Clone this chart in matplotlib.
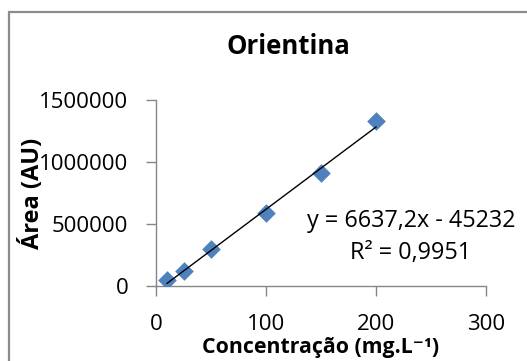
import numpy as np
import matplotlib
matplotlib.use("Agg")
from matplotlib import pyplot as plt
from matplotlib.patches import Rectangle

plt.rcParams['font.family'] = ['Open Sans', 'DejaVu Sans']

# Calibration data (mg/L vs peak area)
concentracao = [10, 25, 50, 100, 150, 200]
area = [48000, 123000, 296000, 586000, 909000, 1333000]

# Trendline reported by the fit
slope = 6637.2
intercept = -45232
r2 = 0.9951

x_ticks = [0, 100, 200, 300]
y_ticks = [0, 500000, 1000000, 1500000]

GRAY = "#868686"
BLUE = "#4F81BD"

fig = plt.figure(figsize=(5.27, 3.61), dpi=100)
fig.patch.set_facecolor("white")

# chart border (extends past the right/bottom edges)
fig.patches.append(Rectangle((8.5 / 527, -0.2), 1.2, 1 - 11.5 / 361 + 0.2,
                             transform=fig.transFigure, fill=False,
                             edgecolor="#8c8c8c", linewidth=1.6))

ax = fig.add_axes([156 / 527, 1 - 286 / 361, 330 / 527, 186 / 361])

ax.scatter(concentracao, area, marker="D", s=9.5 ** 2, color=BLUE,
           linewidths=0, zorder=3)

xs = np.array([min(concentracao), max(concentracao)])
ax.plot(xs, slope * xs + intercept, color="black", linewidth=1.0, zorder=4)

ax.set_xlim(0, 300)
ax.set_ylim(0, 1500000)
ax.set_xticks(x_ticks)
ax.set_yticks(y_ticks)
ax.set_xticklabels([str(v) for v in x_ticks])
ax.set_yticklabels([str(v) for v in y_ticks])

for side in ["top", "right"]:
    ax.spines[side].set_visible(False)
for side in ["left", "bottom"]:
    ax.spines[side].set_color(GRAY)
    ax.spines[side].set_linewidth(1.0)
ax.tick_params(axis="both", direction="out", length=7, width=1.0,
               color=GRAY, labelsize=16, labelcolor="black")
ax.tick_params(axis="y", pad=13)
ax.tick_params(axis="x", pad=13)

fig.text(288 / 527, 1 - 47 / 361, "Orientina", ha="center", va="center",
         fontsize=18.5, fontweight="bold")
fig.text(33 / 527, 1 - 193 / 361, "Área (AU)", ha="center", va="center",
         rotation=90, fontsize=17, fontweight="bold")
fig.text(321 / 527, 1 - 347 / 361, "Concentração (mg.L⁻¹)", ha="center",
         va="center", fontsize=15.3, fontweight="bold")

eq = f"y = {slope:.1f}x - {abs(intercept)}".replace(".", ",")
fig.text(411 / 527, 1 - 221 / 361, eq, ha="center", va="center", fontsize=16.8)
fig.text(411 / 527, 1 - 253 / 361, f"R² = {r2}".replace(".", ","),
         ha="center", va="center", fontsize=16.8)

fig.savefig("out.png", dpi=100)
